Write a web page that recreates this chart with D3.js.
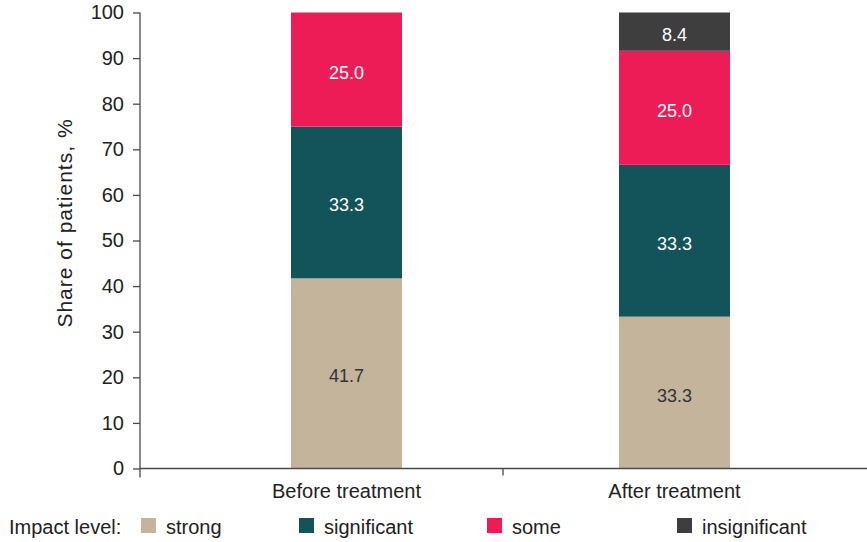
<!DOCTYPE html>
<html>
<head>
<meta charset="utf-8">
<script src="https://cdn.jsdelivr.net/npm/d3@7"></script>
<style>
  html, body { margin: 0; padding: 0; background: #ffffff; }
  svg { display: block; font-family: "Liberation Sans", Arial, Helvetica, sans-serif; }
</style>
</head>
<body>
<svg id="chart" width="867" height="542"></svg>
<script>
// Share of patients by impact level, before and after treatment
const categories = ["Before treatment", "After treatment"];
const levels = ["strong", "significant", "some", "insignificant"];
const strong = [41.7, 33.3];
const significant = [33.3, 33.3];
const some = [25.0, 25.0];
const insignificant = [0, 8.4];
const yTicks = [0, 10, 20, 30, 40, 50, 60, 70, 80, 90, 100];

const colors = {
  strong: "#c4b49c",
  significant: "#13545a",
  some: "#ee1c56",
  insignificant: "#3e3e3e"
};
const labelColors = {
  strong: "#333333",
  significant: "#ffffff",
  some: "#ffffff",
  insignificant: "#ffffff"
};

const rows = categories.map((c, i) => ({
  category: c,
  strong: strong[i],
  significant: significant[i],
  some: some[i],
  insignificant: insignificant[i]
}));

const svg = d3.select("#chart");
const axisColor = "#4a4a4a";
const fontSize = 20;
const valueFontSize = 18;

const plot = { left: 140, right: 867, top: 12.5, bottom: 468.5 };
const barWidth = 111;

const y = d3.scaleLinear().domain([0, 100]).range([plot.bottom, plot.top]);
const x = d3.scalePoint().domain(categories).range([346.5, 674.5]);

const series = d3.stack().keys(levels)(rows);

// bars
const groups = svg.append("g").selectAll("g")
  .data(series)
  .join("g")
  .attr("fill", d => colors[d.key]);

groups.selectAll("rect")
  .data(d => d.map(v => ({ key: d.key, v })))
  .join("rect")
  .filter(d => d.v[1] - d.v[0] > 0)
  .attr("x", d => x(d.v.data.category) - barWidth / 2)
  .attr("width", barWidth)
  .attr("y", d => y(d.v[1]))
  .attr("height", d => y(d.v[0]) - y(d.v[1]));

// value labels
const labels = svg.append("g")
  .attr("font-size", valueFontSize)
  .attr("text-anchor", "middle");
series.forEach(s => {
  s.forEach(v => {
    const val = v[1] - v[0];
    if (val <= 0) return;
    labels.append("text")
      .attr("x", x(v.data.category))
      .attr("y", (y(v[0]) + y(v[1])) / 2)
      .attr("dy", "0.5em")
      .attr("fill", labelColors[s.key])
      .text(v.data[s.key].toFixed(1));
  });
});

// y axis
const yAxis = d3.axisLeft(y).tickValues(yTicks).tickSize(7).tickPadding(9).tickSizeOuter(0);
const gy = svg.append("g")
  .attr("transform", `translate(${plot.left},0)`)
  .call(yAxis);
gy.select(".domain").remove();
gy.selectAll(".tick line").attr("stroke", axisColor).attr("stroke-width", 1.3);
gy.selectAll(".tick text")
  .attr("font-size", fontSize)
  .attr("fill", "#222")
  .attr("font-family", null);
svg.append("line")
  .attr("x1", plot.left).attr("x2", plot.left)
  .attr("y1", y(100)).attr("y2", plot.bottom + 9)
  .attr("stroke", axisColor).attr("stroke-width", 1.3);

// x axis
svg.append("line")
  .attr("x1", plot.left).attr("x2", plot.right)
  .attr("y1", plot.bottom).attr("y2", plot.bottom)
  .attr("stroke", axisColor).attr("stroke-width", 1.3);
// divider tick between the two categories
const divider = 503;
svg.append("line")
  .attr("x1", divider).attr("x2", divider)
  .attr("y1", plot.bottom).attr("y2", plot.bottom + 7)
  .attr("stroke", axisColor).attr("stroke-width", 1.3);

svg.append("g")
  .attr("font-size", fontSize)
  .attr("text-anchor", "middle")
  .attr("fill", "#222")
  .selectAll("text")
  .data(categories)
  .join("text")
  .attr("x", d => x(d))
  .attr("y", 498)
  .text(d => d);

// y axis title
svg.append("text")
  .attr("transform", `translate(72,223) rotate(-90)`)
  .attr("text-anchor", "middle")
  .attr("font-size", 21)
  .attr("letter-spacing", 1)
  .attr("fill", "#222")
  .text("Share of patients, %");

// legend
const legend = svg.append("g").attr("font-size", fontSize).attr("fill", "#222");
legend.append("text").attr("x", 9).attr("y", 534).text("Impact level:");
const legendX = [141, 299, 487, 677];
levels.forEach((k, i) => {
  legend.append("rect")
    .attr("x", legendX[i]).attr("y", 518)
    .attr("width", 15).attr("height", 15)
    .attr("fill", colors[k]);
  legend.append("text")
    .attr("x", legendX[i] + 25).attr("y", 534)
    .text(k);
});
</script>
</body>
</html>
